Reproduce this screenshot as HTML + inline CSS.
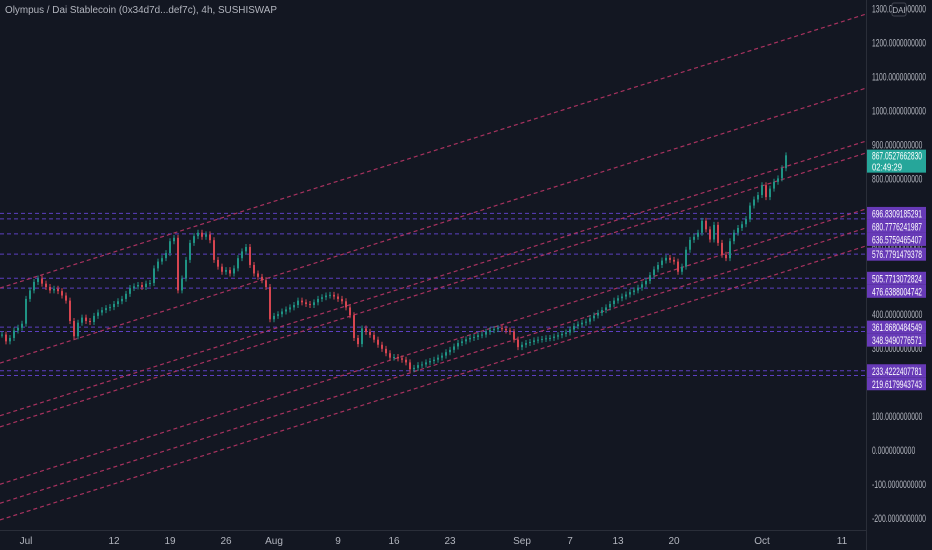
<!DOCTYPE html>
<html><head><meta charset="utf-8"><style>
html,body{margin:0;padding:0;background:#131722;}
svg{display:block;font-family:"Liberation Sans",sans-serif;}
</style></head><body>
<svg id="chart" width="932" height="550" viewBox="0 0 932 550" xmlns="http://www.w3.org/2000/svg">
<rect x="0" y="0" width="932" height="550" fill="#131722"/>
<g id="hlines"></g>
<g id="tlines"></g>
<g id="candles"></g>
<line x1="866.5" y1="0" x2="866.5" y2="550" stroke="#2a2e39"/>
<line x1="0" y1="530.5" x2="866" y2="530.5" stroke="#2a2e39"/>
<g id="yaxis"></g>
<g id="xaxis"></g>
<g id="labels"></g>
<text x="5" y="13" fill="#b2b5be" font-size="10" textLength="272" lengthAdjust="spacingAndGlyphs">Olympus / Dai Stablecoin (0x34d7d...def7c), 4h, SUSHISWAP</text>
</svg>
<script>
// ---- data ----
const closes = [340,320,330,352,360,372,445,470,495,505,490,480,470,475,468,455,440,380,335,375,
390,380,377,395,405,412,418,421,430,438,445,460,477,482,486,480,490,492,535,555,
565,580,615,625,470,505,560,610,630,640,628,635,618,560,540,525,530,520,535,565,
585,598,545,520,510,500,480,385,395,400,408,414,420,427,440,435,430,427,435,445,
450,455,457,452,445,438,420,397,330,312,358,348,339,325,310,298,285,272,274,270,
266,258,238,242,250,252,258,262,266,272,278,288,295,305,315,320,326,330,333,338,
340,348,353,356,359,357,352,348,325,303,310,315,318,323,325,327,329,330,334,338,
342,346,355,365,370,375,378,388,396,404,412,420,430,440,447,452,458,465,470,478,
488,498,515,532,545,558,566,560,555,525,540,590,619,628,640,675,650,620,663,610,
575,565,615,640,654,665,680,720,738,751,780,745,770,790,800,830,868];
const levels = [696.8309185291,680.7776241987,636.5759465407,576.7791479378,505.7713072824,476.6388004742,361.8680484549,348.9490776571,233.4222407781,219.6179943743];
const levelText = ["696.8309185291","680.7776241987","636.5759465407","576.7791479378","505.7713072824","476.6388004742","361.8680484549","348.9490776571","233.4222407781","219.6179943743"];
const priceTicks = [1300,1200,1100,1000,900,800,700,600,500,400,300,200,100,0,-100,-200];
const dateLabels = ["Jul","12","19","26","Aug","9","16","23","Sep","7","13","20","Oct","11"];
const dateDays = [0,11,18,25,31,39,46,53,62,68,74,81,92,102];
const chanStartDay = -3.25, chanEndDay = 105;
const chanStartPrice = [477,256,101,68,-101,-157,-206];
const chanEndPrice = [1284,1066,910,875,710,654,601];
const lastPrice = 867.0527662830;
const lastText = "867.0527662830";
const countdown = "02:49:29";

// ---- scales ----
const PLOT_W = 866;
function y(p){ return 450 - p*0.3395; }
function xDay(d){ return 26 + d*8; }
function xCandle(i){ return xDay(-3 + i*0.5); }

const NS = "http://www.w3.org/2000/svg";
function mk(tag, attrs, parent){ const e=document.createElementNS(NS,tag); for(const k in attrs) e.setAttribute(k,attrs[k]); parent.appendChild(e); return e; }

const hl = document.getElementById('hlines');
levels.forEach((p,i)=>{
  const l = mk('line',{x1:0,x2:PLOT_W,y1:y(p),y2:y(p),stroke:'#5c3fc0','stroke-width':1,'stroke-dasharray':'4 3'},hl);
  
  
});
const tl = document.getElementById('tlines');
chanStartPrice.forEach((p,i)=>{
  const l = mk('line',{x1:xDay(chanStartDay),y1:y(p),x2:xDay(chanEndDay),y2:y(chanEndPrice[i]),stroke:'#a8325f','stroke-width':1.2,'stroke-dasharray':'4 3'},tl);
  
  
});
const cg = document.getElementById('candles');
closes.forEach((c,i)=>{
  const o = i===0 ? c : closes[i-1];
  const up = c >= o;
  const col = up ? '#1f9384' : '#d64550';
  const x = xCandle(i);
  const top = y(Math.max(o,c)), bot = y(Math.min(o,c));
  const g = mk('g',{},cg);
  
  
  mk('line',{x1:x,x2:x,y1:top-3,y2:bot+3,stroke:col,'stroke-width':1},g);
  mk('rect',{x:x-1,y:top,width:2,height:Math.max(1,bot-top),fill:col},g);
});
const ya = document.getElementById('yaxis');
priceTicks.forEach(p=>{
  const s = p.toFixed(10);
  const t = mk('text',{x:872,y:y(p)+4,fill:'#b2b5be','font-size':11,textLength:(s.length*3.6).toFixed(1),lengthAdjust:'spacingAndGlyphs'},ya);
  t.textContent = s;
  
  
});
const db = mk('g',{},ya);


mk('rect',{x:892,y:3,width:14,height:13,rx:2,fill:'#131722',stroke:'#434651'},db);
const dt = mk('text',{x:899,y:13,fill:'#b2b5be','font-size':8,'text-anchor':'middle'},db);
dt.textContent='DAI';
const xa = document.getElementById('xaxis');
dateLabels.forEach((s,i)=>{
  const t = mk('text',{x:xDay(dateDays[i]),y:544,fill:'#b2b5be','font-size':10,'text-anchor':'middle'},xa);
  t.textContent = s;
  
  
});
const lb = document.getElementById('labels');
let prevY = -1e9;
levels.forEach((p,i)=>{
  const cy = Math.max(y(p), prevY + 13);
  prevY = cy;
  const g = mk('g',{},lb);
  
  
  mk('rect',{x:867,y:cy-6.5,width:59,height:13,fill:'#673ab7'},g);
  const t = mk('text',{x:872,y:cy+4,fill:'#ffffff','font-size':11,textLength:50,lengthAdjust:'spacingAndGlyphs'},g);
  t.textContent = levelText[i];
});
const lg = mk('g',{},lb);


mk('rect',{x:867,y:y(lastPrice)-6,width:59,height:23,fill:'#26a69a'},lg);
const lt = mk('text',{x:872,y:y(lastPrice)+4,fill:'#ffffff','font-size':11,textLength:50,lengthAdjust:'spacingAndGlyphs'},lg);
lt.textContent = lastText;
const ct = mk('text',{x:872,y:y(lastPrice)+15,fill:'#ffffff','font-size':10,textLength:30,lengthAdjust:'spacingAndGlyphs'},lg);
ct.textContent = countdown;
</script>
</body></html>
